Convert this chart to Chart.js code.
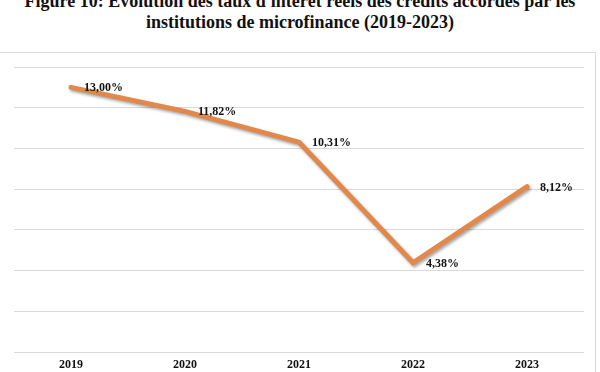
<!DOCTYPE html>
<html lang="fr">
<head>
    <meta charset="UTF-8">
    <title>Évolution des taux d'intérêt réels</title>
    <style>
        body {
            margin: 0;
            width: 600px;
            height: 372px;
            overflow: hidden;
            background: #fff;
            position: relative;
            font-family: "Liberation Serif", "DejaVu Serif", serif;
        }
        .title {
            position: absolute;
            left: 0;
            width: 600px;
            text-align: center;
            font-weight: bold;
            font-size: 18px;
            color: #111;
            white-space: nowrap;
        }
        .frame {
            position: absolute;
            left: -1px;
            top: 52px;
            width: 595px;
            height: 340px;
            border: 1px solid #d9d9d9;
        }
        #chart {
            position: absolute;
            left: 0;
            top: 0;
        }
    </style>
</head>
<body>

<div class="title" style="top:-9px;">Figure 10: Évolution des taux d'intérêt réels des crédits accordés par les</div>
<div class="title" style="top:12px;">institutions de microfinance (2019-2023)</div>
<div class="frame"></div>
<canvas id="chart" width="600" height="372"></canvas>

<script src="https://cdn.jsdelivr.net/npm/chart.js"></script>
<script>
    const years = ['2019', '2020', '2021', '2022', '2023'];
    const rates = [13.00, 11.82, 10.31, 4.38, 8.12];
    const yMin = 0;
    const yMax = 14;
    const yStep = 2;

    const lineColor = '#E2884A';
    const labelFont = 'bold 12px "Liberation Serif", "DejaVu Serif", serif';

    // shadow under the line, like the office chart
    const lineShadow = {
        id: 'lineShadow',
        beforeDatasetDraw(chart) {
            const ctx = chart.ctx;
            ctx.save();
            ctx.shadowColor = 'rgba(0, 0, 0, 0.35)';
            ctx.shadowBlur = 3;
            ctx.shadowOffsetX = 1.5;
            ctx.shadowOffsetY = 2;
        },
        afterDatasetDraw(chart) {
            chart.ctx.restore();
        }
    };

    // value labels to the right of each point, French decimal comma
    const valueLabels = {
        id: 'valueLabels',
        afterDatasetsDraw(chart) {
            const ctx = chart.ctx;
            const meta = chart.getDatasetMeta(0);
            ctx.save();
            ctx.font = labelFont;
            ctx.fillStyle = '#111';
            ctx.textAlign = 'left';
            ctx.textBaseline = 'middle';
            meta.data.forEach((pt, i) => {
                const txt = rates[i].toFixed(2).replace('.', ',') + '%';
                ctx.fillText(txt, pt.x + 13, pt.y + 1);
            });
            ctx.restore();
        }
    };

    new Chart(document.getElementById('chart'), {
        type: 'line',
        data: {
            labels: years,
            datasets: [{
                data: rates,
                borderColor: lineColor,
                borderWidth: 5,
                pointRadius: 0,
                tension: 0,
                borderJoinStyle: 'miter',
                borderCapStyle: 'round'
            }]
        },
        options: {
            responsive: false,
            animation: false,
            layout: { padding: { left: 14, right: 16, top: 67, bottom: 0 } },
            plugins: {
                legend: { display: false },
                tooltip: { enabled: false }
            },
            scales: {
                x: {
                    offset: true,
                    grid: { display: false, drawTicks: false },
                    border: { display: false },
                    ticks: {
                        padding: 6,
                        color: '#111',
                        font: { family: '"Liberation Serif", "DejaVu Serif", serif', size: 12, weight: 'bold' }
                    },
                    afterFit(scale) { scale.height = 20; }
                },
                y: {
                    min: yMin,
                    max: yMax,
                    ticks: { stepSize: yStep, display: false },
                    grid: { color: '#d9d9d9', lineWidth: 1, drawTicks: false },
                    border: { display: false },
                    afterFit(scale) { scale.width = 0; }
                }
            }
        },
        plugins: [lineShadow, valueLabels]
    });
</script>

</body>
</html>
